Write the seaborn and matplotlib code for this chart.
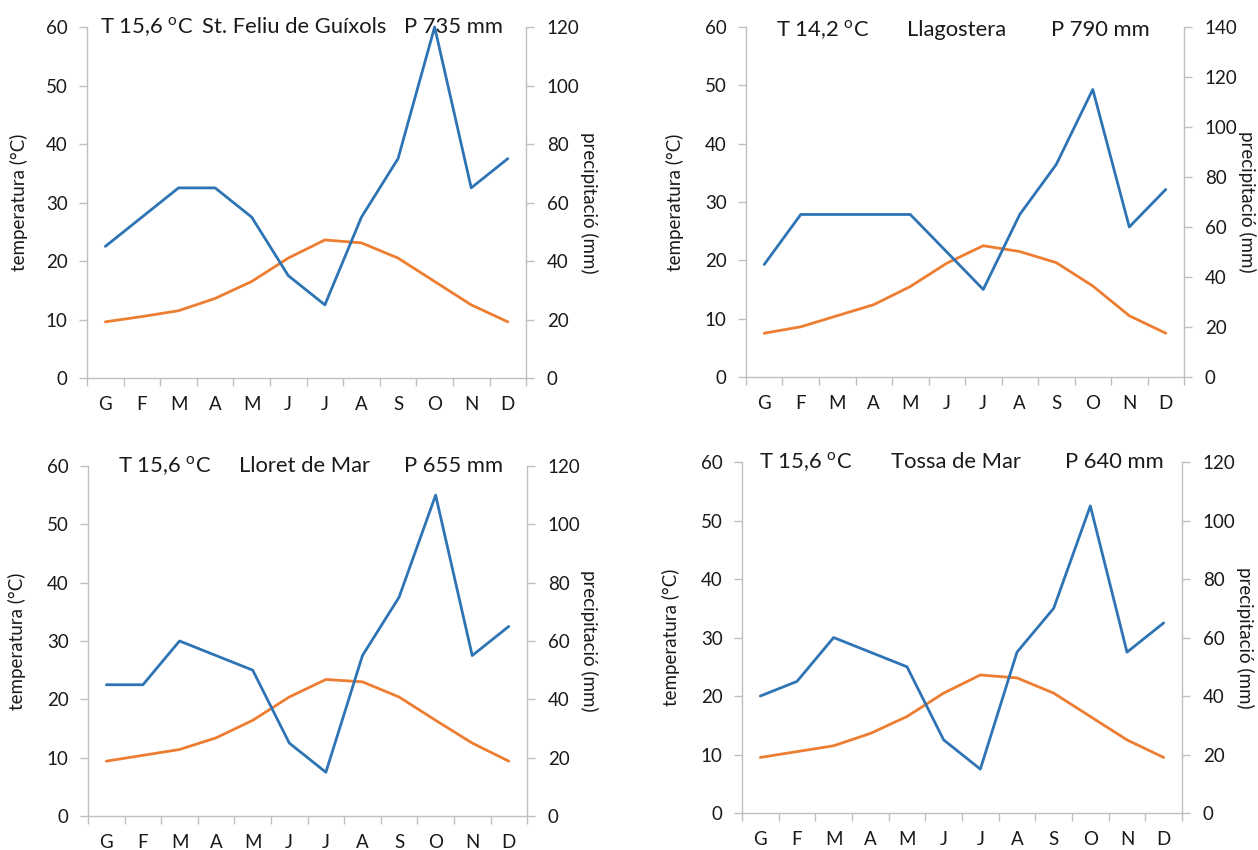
import numpy as np
import pandas as pd
import seaborn as sns
import matplotlib.pyplot as plt
from matplotlib.ticker import FixedLocator, MultipleLocator

# Mesos (català)
mesos = ["G", "F", "M", "A", "M", "J", "J", "A", "S", "O", "N", "D"]

# St. Feliu de Guíxols
temp_feliu = [9.6, 10.5, 11.5, 13.6, 16.5, 20.5, 23.6, 23.1, 20.5, 16.5, 12.5, 9.6]
prec_feliu = [45, 55, 65, 65, 55, 35, 25, 55, 75, 120, 65, 75]

# Llagostera
temp_llag = [7.5, 8.6, 10.5, 12.4, 15.5, 19.5, 22.5, 21.5, 19.6, 15.6, 10.5, 7.5]
prec_llag = [45, 65, 65, 65, 65, 50, 35, 65, 85, 115, 60, 75]

# Lloret de Mar
temp_lloret = [9.4, 10.4, 11.4, 13.4, 16.4, 20.4, 23.4, 23.0, 20.4, 16.4, 12.5, 9.4]
prec_lloret = [45, 45, 60, 55, 50, 25, 15, 55, 75, 110, 55, 65]

# Tossa de Mar
temp_tossa = [9.5, 10.5, 11.5, 13.6, 16.5, 20.5, 23.6, 23.1, 20.5, 16.5, 12.5, 9.5]
prec_tossa = [40, 45, 60, 55, 50, 25, 15, 55, 70, 105, 55, 65]

BLAU = "#2E74B5"
TARONJA = "#ED7D31"
GRIS = "#BFBFBF"
TEXT = "#1a1a1a"

sns.set_style("white")
plt.rcParams['font.family'] = ['Lato', 'DejaVu Sans']
plt.rcParams['mathtext.fontset'] = 'custom'
plt.rcParams['mathtext.rm'] = 'Lato'

fig = plt.figure(figsize=(12.58, 8.5), dpi=100)

grau = r"$^\mathregular{o}$"

panels = [
    dict(pos=[0.0692, 0.5553, 0.3490, 0.4129], temp=temp_feliu, prec=prec_feliu, pmax=120,
         textos=[("T 15,6 " + grau + "C", 0.030), ("St. Feliu de Guíxols", 0.262), ("P 735 mm", 0.722)],
         ty=1.0, lab=(-0.135, 1.164)),
    dict(pos=[0.5930, 0.5565, 0.3482, 0.4118], temp=temp_llag, prec=prec_llag, pmax=140,
         textos=[("T 14,2 " + grau + "C", 0.068), ("Llagostera", 0.368), ("P 790 mm", 0.696)],
         ty=0.99, lab=(-0.142, 1.164)),
    dict(pos=[0.0700, 0.0400, 0.3490, 0.4118], temp=temp_lloret, prec=prec_lloret, pmax=120,
         textos=[("T 15,6 " + grau + "C", 0.068), ("Lloret de Mar", 0.344), ("P 655 mm", 0.720)],
         ty=1.0, lab=(-0.141, 1.162)),
    dict(pos=[0.5898, 0.0435, 0.3498, 0.4129], temp=temp_tossa, prec=prec_tossa, pmax=120,
         textos=[("T 15,6 " + grau + "C", 0.039), ("Tossa de Mar", 0.339), ("P 640 mm", 0.734)],
         ty=1.0, lab=(-0.141, 1.164)),
]


def dibuixa(p):
    ax = fig.add_axes(p["pos"])
    ax2 = ax.twinx()
    df = pd.DataFrame({"x": np.arange(12), "temp": p["temp"], "prec": p["prec"]})

    sns.lineplot(data=df, x="x", y="temp", ax=ax, color=TARONJA, linewidth=2.0)
    sns.lineplot(data=df, x="x", y="prec", ax=ax2, color=BLAU, linewidth=2.0)
    for a in (ax, ax2):
        for l in a.lines:
            l.set_clip_on(False)

    ax.set_xlim(-0.5, 11.5)
    ax.set_ylim(0, 60)
    ax2.set_ylim(0, p["pmax"])
    ax.yaxis.set_major_locator(MultipleLocator(10))
    ax2.yaxis.set_major_locator(MultipleLocator(20))

    ax.set_xticks(np.arange(12))
    ax.set_xticklabels(mesos)
    ax.xaxis.set_minor_locator(FixedLocator(np.arange(-0.5, 12, 1)))

    for a in (ax, ax2):
        for s in a.spines.values():
            s.set_color(GRIS)
            s.set_linewidth(1)
        a.spines["top"].set_visible(False)
    ax.spines["right"].set_visible(False)
    ax2.spines["left"].set_visible(False)
    ax2.spines["bottom"].set_visible(False)

    ax.tick_params(axis="x", which="major", length=0, pad=13, labelsize=13.5, labelcolor=TEXT)
    ax.tick_params(axis="x", which="minor", length=6, color=GRIS, width=1, direction="out", bottom=True)
    ax.tick_params(axis="y", length=6, color=GRIS, width=1, pad=8, labelsize=13.5, labelcolor=TEXT, left=True)
    ax2.tick_params(axis="y", length=6, color=GRIS, width=1, pad=9, labelsize=13.5, labelcolor=TEXT, right=True)

    ax.set_xlabel("")
    ax.set_ylabel("temperatura (°C)", fontsize=13.5, color=TEXT)
    ax2.set_ylabel("precipitació (mm)", fontsize=13.5, color=TEXT, rotation=-90)
    ax.yaxis.set_label_coords(p["lab"][0], 0.5)
    ax2.yaxis.set_label_coords(p["lab"][1], 0.5)

    for txt, x in p["textos"]:
        ax.text(x, p["ty"], txt, transform=ax.transAxes, fontsize=15.8, color=TEXT,
                ha="left", va="center")


for p in panels:
    dibuixa(p)

fig.savefig("out.png", dpi=100, facecolor="white")
plt.close(fig)
